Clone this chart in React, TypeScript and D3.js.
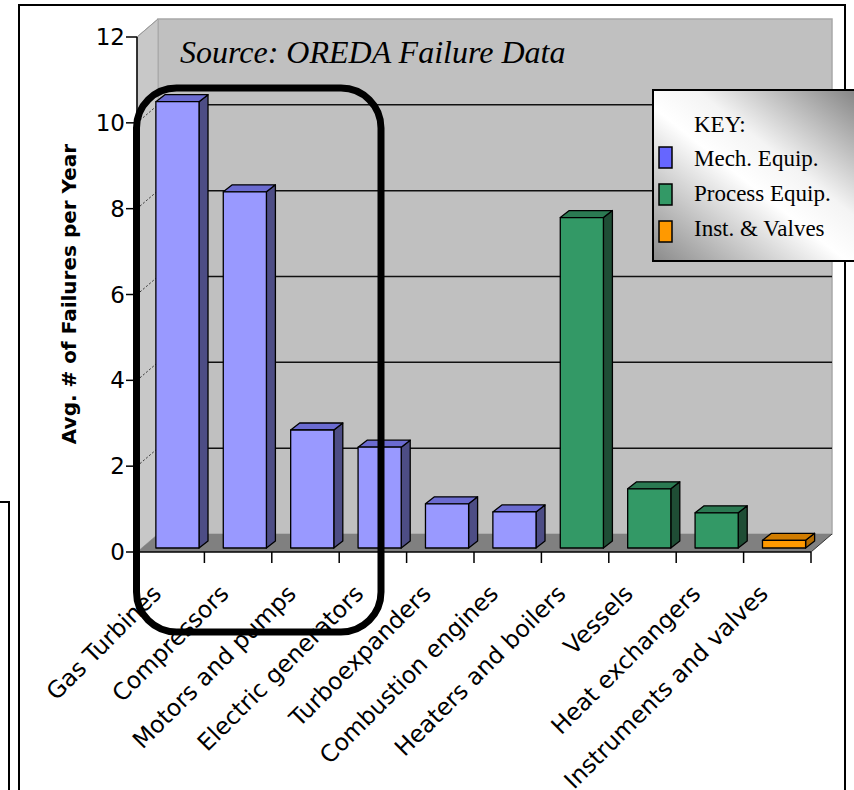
import * as d3 from 'd3';

const categories = [
  'Gas Turbines',
  'Compressors',
  'Motors and pumps',
  'Electric generators',
  'Turboexpanders',
  'Combustion engines',
  'Heaters and boilers',
  'Vessels',
  'Heat exchangers',
  'Instruments and valves',
];
const failures = [10.4, 8.3, 2.75, 2.35, 1.03, 0.84, 7.7, 1.38, 0.82, 0.18];
const groups = ['mech', 'mech', 'mech', 'mech', 'mech', 'mech', 'proc', 'proc', 'proc', 'inst'];
const yTicks = [0, 2, 4, 6, 8, 10, 12];
const legendItems = [
  { key: 'mech', label: 'Mech. Equip.' },
  { key: 'proc', label: 'Process Equip.' },
  { key: 'inst', label: 'Inst. & Valves' },
];

const palette: Record<string, { front: string; side: string; top: string; key: string }> = {
  mech: { front: '#9999ff', side: '#4d4d85', top: '#6b6bd0', key: '#6666ff' },
  proc: { front: '#339966', side: '#1f4d35', top: '#2b7a52', key: '#339966' },
  inst: { front: '#ff9900', side: '#b36b00', top: '#d07c00', key: '#ff9900' },
};

const W = 854;
const H = 790;
const DX = 21; // wall depth
const DY = -18;

export default function App() {
  const x = d3.scaleBand<string>().domain(categories).range([137, 811]);
  const y = d3.scaleLinear().domain([0, 12]).range([552, 37]);
  const bw = x.bandwidth();
  const x0 = 137;
  const x1 = 811;
  const yBase = y(0);
  const yTop = y(12);

  // bar geometry (bars sit slightly back from the floor front edge)
  const barOff = bw * 0.28;
  const barW = bw * 0.64;
  const bdx = 9;
  const bdy = -7;
  const lift = 4;

  return (
    <svg
      width={W}
      height={H}
      style={{ position: 'absolute', left: 0, top: 0, background: '#fff' }}
    >
      <defs>
        <linearGradient id="keyGrad" x1="0" y1="1" x2="1" y2="0">
          <stop offset="0" stopColor="#8a8a8a" />
          <stop offset="0.45" stopColor="#ffffff" />
          <stop offset="0.6" stopColor="#f4f4f4" />
          <stop offset="1" stopColor="#7c7c7c" />
        </linearGradient>
      </defs>

      {/* frames */}
      <path d="M0,502 H9 V790" fill="none" stroke="#000" strokeWidth={2} />
      <path d={`M19,790 V5 H845 V790`} fill="none" stroke="#000" strokeWidth={2} />

      {/* back wall */}
      <rect
        x={x0 + DX}
        y={yTop + DY}
        width={x1 - x0}
        height={yBase - yTop}
        fill="#c0c0c0"
        stroke="#a8a8a8"
        strokeWidth={1.5}
      />
      {/* side wall */}
      <path
        d={`M${x0},${yTop} L${x0 + DX},${yTop + DY} L${x0 + DX},${yBase + DY} L${x0},${yBase} Z`}
        fill="#c8c8c8"
        stroke="#a8a8a8"
        strokeWidth={1}
      />
      {/* floor */}
      <path
        d={`M${x0},${yBase} L${x1},${yBase} L${x1 + DX},${yBase + DY} L${x0 + DX},${yBase + DY} Z`}
        fill="#808080"
      />
      <line x1={x1} y1={yBase} x2={x1 + DX} y2={yBase + DY} stroke="#333" strokeWidth={1} />

      {/* gridlines */}
      {yTicks
        .filter((t) => t > 0 && t < 12)
        .map((t) => (
          <g key={`g${t}`}>
            <line x1={x0 + DX} x2={x1 + DX} y1={y(t) + DY} y2={y(t) + DY} stroke="#111" strokeWidth={1.5} />
            <line
              x1={x0}
              y1={y(t)}
              x2={x0 + DX}
              y2={y(t) + DY}
              stroke="#333"
              strokeWidth={1}
              strokeDasharray="2,2"
            />
          </g>
        ))}
      <line x1={x0} y1={yTop} x2={x0 + DX} y2={yTop + DY} stroke="#999" strokeWidth={1} />

      {/* bars */}
      {categories.map((c, i) => {
        const col = palette[groups[i]];
        const bx = (x(c) as number) + barOff;
        const by = y(failures[i]) - lift;
        const bb = yBase - lift;
        return (
          <g key={c} stroke="#000" strokeWidth={1.3} strokeLinejoin="round">
            <path
              d={`M${bx + barW},${by} L${bx + barW + bdx},${by + bdy} L${bx + barW + bdx},${bb + bdy} L${bx + barW},${bb} Z`}
              fill={col.side}
            />
            <path
              d={`M${bx},${by} L${bx + bdx},${by + bdy} L${bx + barW + bdx},${by + bdy} L${bx + barW},${by} Z`}
              fill={col.top}
            />
            <rect x={bx} y={by} width={barW} height={bb - by} fill={col.front} />
          </g>
        );
      })}

      {/* axes */}
      <line x1={x0} x2={x0} y1={yTop} y2={yBase} stroke="#000" strokeWidth={1.5} />
      <line x1={x0} x2={x1} y1={yBase} y2={yBase} stroke="#000" strokeWidth={1.5} />
      {yTicks.map((t) => (
        <g key={`t${t}`}>
          <line x1={x0 - 11} x2={x0} y1={y(t)} y2={y(t)} stroke="#000" strokeWidth={1.5} />
          <text
            x={x0 - 12}
            y={y(t)}
            textAnchor="end"
            dominantBaseline="central"
            fontFamily="DejaVu Sans"
            fontSize={23}
            fill="#000"
          >
            {t}
          </text>
        </g>
      ))}
      {categories.map((c) => (
        <line
          key={`xt${c}`}
          x1={(x(c) as number) + bw}
          x2={(x(c) as number) + bw}
          y1={yBase}
          y2={yBase + 11}
          stroke="#000"
          strokeWidth={1.5}
        />
      ))}
      {categories.map((c) => {
        const cx = (x(c) as number) + bw / 2 - 8;
        const cy = 595;
        return (
          <text
            key={`xl${c}`}
            transform={`translate(${cx},${cy}) rotate(-45)`}
            textAnchor="end"
            fontFamily="DejaVu Sans"
            fontSize={23.5}
            fill="#000"
          >
            {c}
          </text>
        );
      })}

      {/* axis title */}
      <text
        transform="translate(76,294) rotate(-90)"
        textAnchor="middle"
        fontFamily="DejaVu Sans"
        fontWeight="bold"
        fontSize={20}
        fill="#000"
      >
        Avg. # of Failures per Year
      </text>

      {/* source note */}
      <text x={180} y={63} fontFamily="Liberation Serif" fontStyle="italic" fontSize={32} fill="#000">
        Source: OREDA Failure Data
      </text>

      {/* legend */}
      <rect x={653} y={90} width={215} height={171} fill="url(#keyGrad)" stroke="#000" strokeWidth={2} />
      <text x={694} y={132} fontFamily="Liberation Serif" fontSize={23} fill="#000">
        KEY:
      </text>
      {legendItems.map((it, i) => (
        <g key={it.key}>
          <rect x={659} y={147 + i * 37} width={13} height={21} fill={palette[it.key].key} stroke="#000" strokeWidth={1.5} />
          <text x={694} y={166 + i * 35} fontFamily="Liberation Serif" fontSize={23} fill="#000">
            {it.label}
          </text>
        </g>
      ))}

      {/* highlight box */}
      <rect x={136.5} y={88} width={244.5} height={544} rx={40} ry={40} fill="none" stroke="#000" strokeWidth={7} />
    </svg>
  );
}
